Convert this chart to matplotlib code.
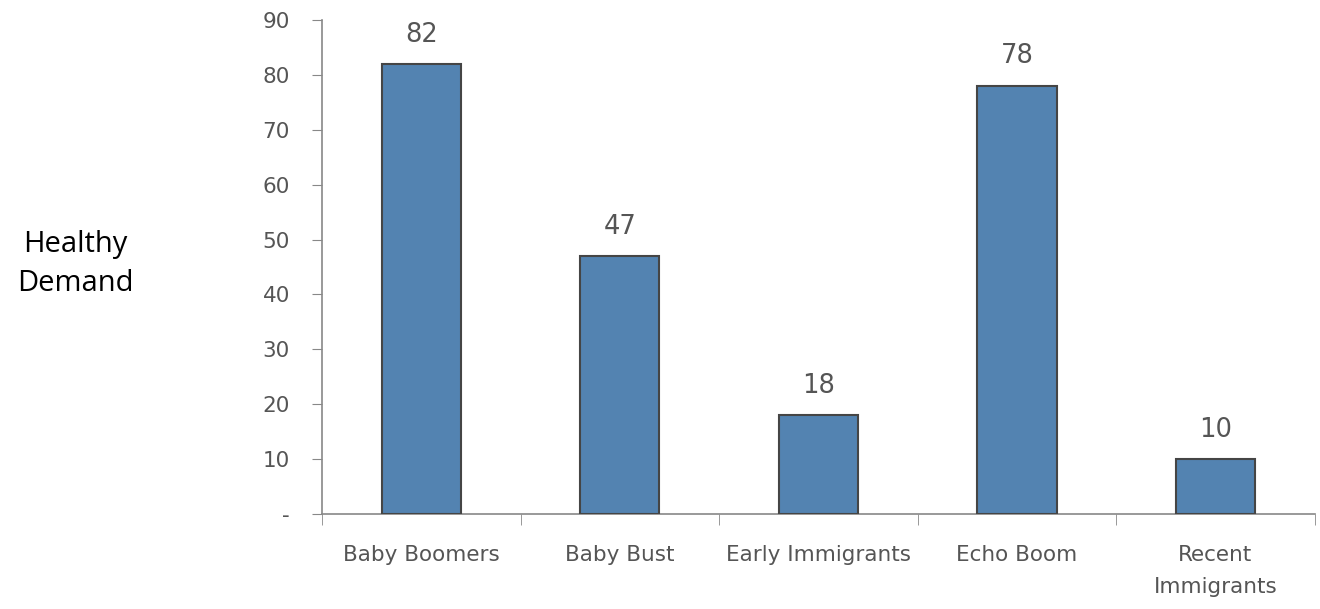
import matplotlib
matplotlib.use("Agg")
import matplotlib.pyplot as plt
import numpy as np

categories = ["Baby Boomers", "Baby Bust", "Early Immigrants", "Echo Boom", "Recent\nImmigrants"]
values = [82, 47, 18, 78, 10]
yticks = [0, 10, 20, 30, 40, 50, 60, 70, 80, 90]
ytick_labels = ["-", "10", "20", "30", "40", "50", "60", "70", "80", "90"]

fig = plt.figure(figsize=(13.2, 6.09), dpi=100)
ax = fig.add_axes([0.2439, 0.156, 0.7521, 0.811])

x = np.arange(len(categories))
ax.bar(x, values, width=0.40, color="#5383B1", edgecolor="#454545", linewidth=1.5, zorder=3)

for xi, v in zip(x, values):
    ax.text(xi, v + 3, str(v), ha="center", va="bottom", fontsize=18.5, color="#555555")

ax.set_xlim(-0.5, len(categories) - 0.5)
ax.set_ylim(0, 90)
ax.set_yticks(yticks)
ax.set_yticklabels(ytick_labels)
ax.set_xticks(x)
ax.set_xticklabels(categories, linespacing=1.75)
ax.set_xticks(np.arange(len(categories) + 1) - 0.5, minor=True)

ax.tick_params(axis="y", length=7, color="#888888", labelcolor="#555555", labelsize=15.5, pad=16)
ax.tick_params(axis="x", which="major", length=0, labelcolor="#555555", labelsize=15.5, pad=22)
ax.tick_params(axis="x", which="minor", length=8, color="#888888")

for s in ["top", "right"]:
    ax.spines[s].set_visible(False)
for s in ["left", "bottom"]:
    ax.spines[s].set_color("#888888")
    ax.spines[s].set_linewidth(1.2)

fig.text(0.057, 0.567, "Healthy\nDemand", ha="center", va="center", fontsize=21,
         color="black", family="Open Sans", linespacing=1.45)

fig.savefig("out.png", dpi=100)
